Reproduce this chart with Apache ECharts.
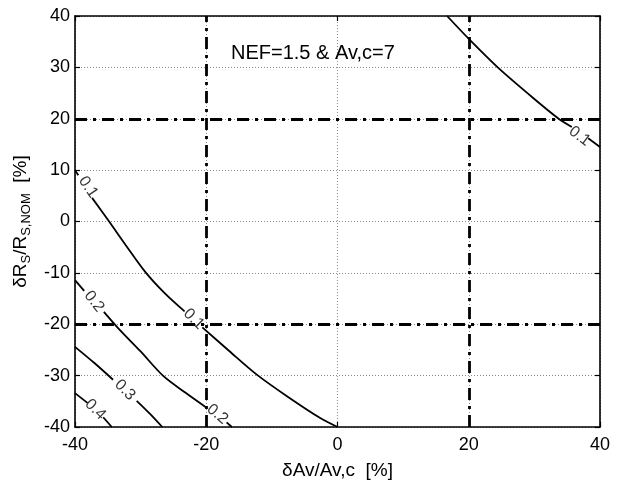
<!DOCTYPE html>
<html>
<head>
<meta charset="utf-8">
<script src="https://cdn.jsdelivr.net/npm/echarts@6/dist/echarts.min.js"></script>
<style>
html,body{margin:0;padding:0;background:#fff;}
#c{width:619px;height:487px;}
</style>
</head>
<body>
<div id="c"></div>
<script>
// axis ranges / ticks
var xTicks = [-40, -20, 0, 20, 40];
var yTicks = [-40, -30, -20, -10, 0, 10, 20, 30, 40];
var refLinesX = [-20, 20];
var refLinesY = [-20, 20];

// contour segments (broken where labels sit)
var c01a_s1 = [[-40, 10.0], [-39.5, 9.0]];
var c01a_s2 = [[-37.4, 4.6], [-34.8, 0.0], [-32.1, -4.9], [-29.3, -9.8], [-26.3, -14.0], [-23.3, -17.5]];
var c01a_s3 = [[-20.6, -20.6], [-16.5, -25.2], [-12.3, -29.8], [-7.7, -34.0], [-2.7, -38.2], [0.0, -40.0]];
var c02_s1 = [[-40, -11.4], [-38.6, -13.5]];
var c02_s2 = [[-35.6, -17.6], [-33.4, -20.8], [-30.0, -25.3], [-26.6, -30.0], [-23.2, -33.3], [-19.9, -36.3]];
var c02_s3 = [[-16.9, -39.1], [-16.1, -40.0]];
var c03_s1 = [[-40, -24.4], [-37.0, -27.6], [-34.2, -30.8]];
var c03_s2 = [[-30.6, -34.9], [-28.6, -37.4], [-26.7, -40.0]];
var c04_s1 = [[-40, -33.4], [-38.1, -35.3]];
var c04_s2 = [[-35.7, -38.1], [-34.4, -40.0]];
var c01b_s1 = [[16.7, 40.0], [20.2, 35.3], [24.5, 29.9], [29.3, 24.6], [33.6, 20.1], [35.7, 18.4]];
var c01b_s2 = [[38.2, 16.2], [40.0, 14.5]];

// contour labels
var labelText = ['0.1', '0.1', '0.2', '0.2', '0.3', '0.4', '0.1'];
var labelPos = [[-38.0, 6.7], [-21.9, -19.0], [-37.1, -15.6], [-18.3, -37.5], [-32.4, -32.8], [-36.9, -36.6], [36.9, 16.6]];
var labelAngle = [-55, -45, -52, -40, -45, -45, -37];

var titleText = 'NEF=1.5 & Av,c=7';
var xName = 'δAv/Av,c  [%]';

var segments = [c01a_s1, c01a_s2, c01a_s3, c02_s1, c02_s2, c02_s3, c03_s1, c03_s2, c04_s1, c04_s2, c01b_s1, c01b_s2];

var FONT = 'Liberation Sans, Arial, sans-serif';
var series = [];
segments.forEach(function (seg) {
  series.push({
    type: 'line', data: seg, symbol: 'none', smooth: 0.3, silent: true,
    lineStyle: { color: '#000', width: 1.8 }, z: 4
  });
});
series.push({
  type: 'scatter', symbolSize: 1, silent: true, z: 5,
  itemStyle: { color: 'rgba(0,0,0,0)' },
  data: labelPos.map(function (p, i) {
    return { value: p, name: labelText[i], label: { rotate: labelAngle[i] } };
  }),
  label: {
    show: true, position: 'inside', formatter: function (p) { return p.name; },
    color: '#000', fontSize: 16, fontFamily: FONT
  }
});
series.push({
  type: 'line', data: [], silent: true,
  markLine: {
    silent: true, symbol: 'none', label: { show: false },
    lineStyle: { color: '#000', width: 2.8, type: [12, 6, 3, 6] },
    data: refLinesX.map(function (v) { return { xAxis: v }; })
      .concat(refLinesY.map(function (v) { return { yAxis: v }; }))
  }
});

var axisCommon = {
  type: 'value',
  axisLine: { show: true, onZero: false, lineStyle: { color: '#000', width: 1.6 } },
  axisTick: { show: true, inside: true, length: 5, lineStyle: { color: '#000', width: 1.2 } }
};

var chart = echarts.init(document.getElementById('c'), null, { renderer: 'canvas' });
chart.setOption({
  animation: false,
  backgroundColor: '#fff',
  title: {
    text: titleText, left: 231, top: 43, padding: 0,
    textStyle: { fontSize: 20, fontWeight: 'normal', color: '#000', fontFamily: FONT }
  },
  grid: { left: 75, right: 19, top: 16, bottom: 60 },
  xAxis: [
    Object.assign({}, axisCommon, {
      position: 'bottom', min: xTicks[0], max: xTicks[xTicks.length - 1], interval: xTicks[1] - xTicks[0],
      axisLabel: { color: '#000', fontSize: 18, margin: 9, fontFamily: FONT },
      splitLine: { show: true, lineStyle: { color: '#8a8a8a', width: 1, type: [1, 2] } },
      name: xName, nameLocation: 'middle', nameGap: 34,
      nameTextStyle: { color: '#000', fontSize: 19, fontFamily: FONT }
    }),
    Object.assign({}, axisCommon, {
      position: 'top', min: xTicks[0], max: xTicks[xTicks.length - 1], interval: xTicks[1] - xTicks[0],
      axisLabel: { show: false }, splitLine: { show: false }
    })
  ],
  yAxis: [
    Object.assign({}, axisCommon, {
      position: 'left', min: yTicks[0], max: yTicks[yTicks.length - 1], interval: yTicks[1] - yTicks[0],
      axisLabel: { color: '#000', fontSize: 18, margin: 5, fontFamily: FONT },
      splitLine: { show: true, lineStyle: { color: '#8a8a8a', width: 1, type: [1, 2] } },
      name: '{a|δR}{s|S}{a|/R}{s|S,NOM}{a|  [%]}', nameLocation: 'middle', nameGap: 26,
      nameTextStyle: {
        color: '#000', fontFamily: FONT,
        rich: {
          a: { fontSize: 19, lineHeight: 24, color: '#000', fontFamily: FONT },
          s: { fontSize: 13, lineHeight: 13, verticalAlign: 'bottom', color: '#000', fontFamily: FONT }
        }
      }
    }),
    Object.assign({}, axisCommon, {
      position: 'right', min: yTicks[0], max: yTicks[yTicks.length - 1], interval: yTicks[1] - yTicks[0],
      axisLabel: { show: false }, splitLine: { show: false }
    })
  ],
  series: series
});
</script>
</body>
</html>
